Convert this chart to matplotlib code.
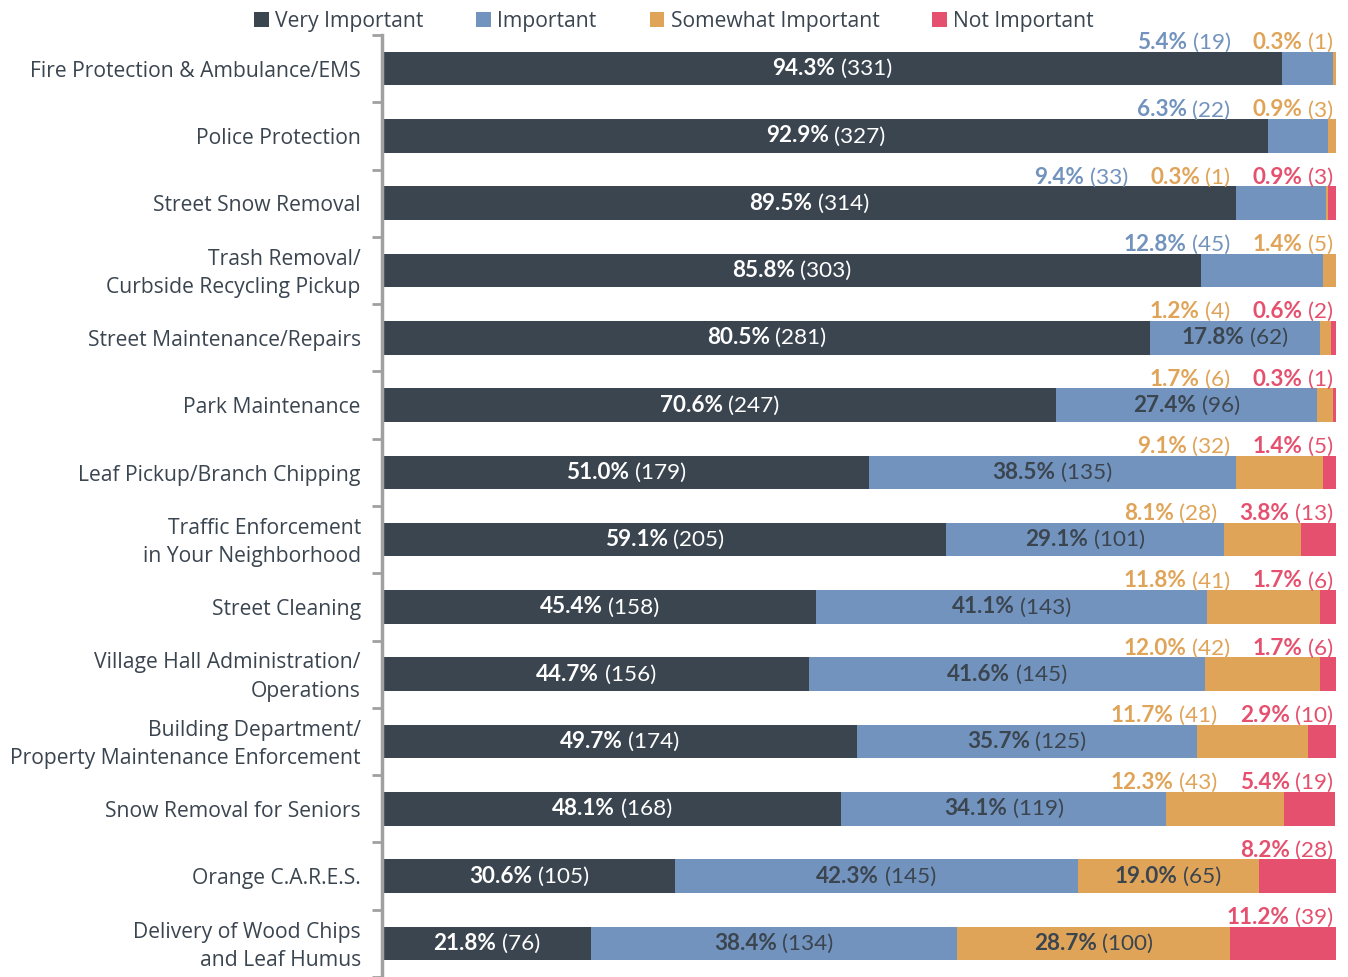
import matplotlib
matplotlib.use("Agg")
import matplotlib.pyplot as plt
from matplotlib.offsetbox import TextArea, HPacker, AnnotationBbox
from matplotlib.patches import Patch


categories = [
    "Fire Protection & Ambulance/EMS",
    "Police Protection",
    "Street Snow Removal",
    "Trash Removal/\nCurbside Recycling Pickup",
    "Street Maintenance/Repairs",
    "Park Maintenance",
    "Leaf Pickup/Branch Chipping",
    "Traffic Enforcement\nin Your Neighborhood",
    "Street Cleaning",
    "Village Hall Administration/\nOperations",
    "Building Department/\nProperty Maintenance Enforcement",
    "Snow Removal for Seniors",
    "Orange C.A.R.E.S.",
    "Delivery of Wood Chips\nand Leaf Humus",
]
series = ["Very Important", "Important", "Somewhat Important", "Not Important"]

very_pct = [94.3, 92.9, 89.5, 85.8, 80.5, 70.6, 51.0, 59.1, 45.4, 44.7, 49.7, 48.1, 30.6, 21.8]
very_n = [331, 327, 314, 303, 281, 247, 179, 205, 158, 156, 174, 168, 105, 76]
imp_pct = [5.4, 6.3, 9.4, 12.8, 17.8, 27.4, 38.5, 29.1, 41.1, 41.6, 35.7, 34.1, 42.3, 38.4]
imp_n = [19, 22, 33, 45, 62, 96, 135, 101, 143, 145, 125, 119, 145, 134]
some_pct = [0.3, 0.9, 0.3, 1.4, 1.2, 1.7, 9.1, 8.1, 11.8, 12.0, 11.7, 12.3, 19.0, 28.7]
some_n = [1, 3, 1, 5, 4, 6, 32, 28, 41, 42, 41, 43, 65, 100]
not_pct = [0.0, 0.0, 0.9, 0.0, 0.6, 0.3, 1.4, 3.8, 1.7, 1.7, 2.9, 5.4, 8.2, 11.2]
not_n = [0, 0, 3, 0, 2, 1, 5, 13, 6, 6, 10, 19, 28, 39]

colors = ["#3b4550", "#7293bd", "#e0a458", "#e5506e"]
dark = "#3b4550"
value_font = "Lato"
FS = 15.2
VFS = 16.2

plt.rcParams["font.family"] = ["Open Sans", "DejaVu Sans"]

fig = plt.figure(figsize=(13.48, 9.77), dpi=100)
ax = fig.add_axes([383 / 1348, 0.0, (1336 - 383) / 1348, 1 - 35 / 977])

pcts = [very_pct, imp_pct, some_pct, not_pct]
counts = [very_n, imp_n, some_n, not_n]
y = list(range(len(categories)))

left = [0.0] * len(categories)
for k in range(4):
    ax.barh(y, pcts[k], left=left, height=0.5, color=colors[k], label=series[k], zorder=2)
    left = [a + b for a, b in zip(left, pcts[k])]


def value_label(p, n, color):
    bold = TextArea(f"{p:.1f}%", textprops=dict(fontweight="bold", color=color,
                                                  fontsize=VFS, family=value_font))
    norm = TextArea(f"({n})", textprops=dict(color=color, fontsize=VFS, family=value_font))
    return HPacker(children=[bold, norm], sep=4, pad=0, align="baseline")


# big segments get their label inside, small ones are listed above the bar
for i in y:
    start = 0.0
    above = []
    for k in range(4):
        p, n = pcts[k][i], counts[k][i]
        if p > 0:
            if k == 0 or p >= 15:
                txt_color = "white" if k == 0 else dark
                ab = AnnotationBbox(value_label(p, n, txt_color), (start + p / 2, i),
                                    xycoords="data", frameon=False, pad=0,
                                    box_alignment=(0.5, 0.5), annotation_clip=False)
                ax.add_artist(ab)
            else:
                above.append(value_label(p, n, colors[k]))
        start += p
    if above:
        pack = HPacker(children=above, sep=16, pad=0, align="baseline")
        ab = AnnotationBbox(pack, (100, i - 0.25), xycoords="data",
                            xybox=(-2, -1), boxcoords="offset points",
                            frameon=False, pad=0, box_alignment=(1, 0),
                            annotation_clip=False)
        ax.add_artist(ab)

# category names drawn as annotations so the line spacing can be set
for i, name in zip(y, categories):
    ax.annotate(name, xy=(0, i), xycoords=("axes fraction", "data"),
                xytext=(-16, -2), textcoords="offset points",
                ha="right", va="center", fontsize=FS, color=dark,
                linespacing=1.45, annotation_clip=False)

ax.set_xlim(0, 100)
ax.set_ylim(len(categories) - 0.5 - 3 / 67.5, -0.5)
ax.set_yticks(y)
ax.set_yticklabels([])
ax.set_yticks([i - 0.5 for i in range(len(categories) + 1)], minor=True)
ax.tick_params(axis="y", which="major", length=0)
ax.tick_params(axis="y", which="minor", length=7, width=2, color="#a0a0a0")
ax.set_xticks([])
for side in ["top", "right", "bottom"]:
    ax.spines[side].set_visible(False)
ax.spines["left"].set_color("#a0a0a0")
ax.spines["left"].set_linewidth(2.5)
ax.spines["left"].set_position(("outward", 1))

handles = [Patch(facecolor=c, label=s) for c, s in zip(colors, series)]
fig.legend(handles=handles, loc="upper center", bbox_to_anchor=(0.5, 1.008), ncol=4,
           frameon=False, handlelength=0.7, handleheight=0.7, handletextpad=0.3,
           columnspacing=2.5, prop=dict(size=FS), labelcolor=dark)

fig.savefig("out.png", dpi=100)
